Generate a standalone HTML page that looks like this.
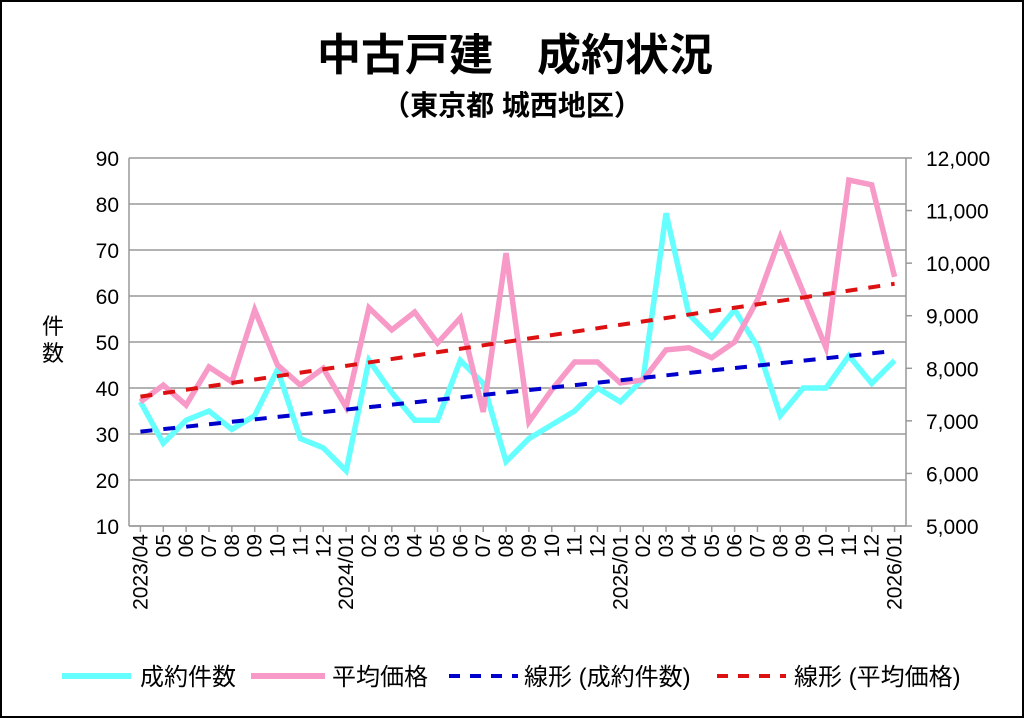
<!DOCTYPE html>
<html><head><meta charset="utf-8"><style>
html,body{margin:0;padding:0;background:#fff}
svg{display:block}
text{font-family:"Liberation Sans","Noto Sans CJK JP",sans-serif;fill:#000}
</style></head><body>
<svg id="c" width="1024" height="718" viewBox="0 0 1024 718">
<rect x="1" y="1" width="1022" height="716" fill="#fff" stroke="#000" stroke-width="2"/>
<text x="405" y="70" text-anchor="middle" font-size="44" font-weight="bold">中古戸建</text>
<text x="625" y="70" text-anchor="middle" font-size="44" font-weight="bold">成約状況</text>
<text x="512" y="115" text-anchor="middle" font-size="28" font-weight="bold">（東京都 城西地区）</text>
<text x="53" y="334" text-anchor="middle" font-size="22">件</text>
<text x="53" y="361" text-anchor="middle" font-size="22">数</text>
<g id="grid"></g><g id="axes"></g><g id="marks"></g>
<g>
<line x1="62" y1="676" x2="131" y2="676" stroke="#66ffff" stroke-width="6"/>
<text x="140" y="685" font-size="24">成約件数</text>
<line x1="251" y1="676" x2="325" y2="676" stroke="#f79ac8" stroke-width="6"/>
<text x="332" y="685" font-size="24">平均価格</text>
<line x1="449" y1="676" x2="518" y2="676" stroke="#0000cc" stroke-width="4" stroke-dasharray="11,10"/>
<text x="524" y="685" font-size="24">線形 (成約件数)</text>
<line x1="717" y1="676" x2="786" y2="676" stroke="#dd1111" stroke-width="4" stroke-dasharray="11,10"/>
<text x="794" y="685" font-size="24">線形 (平均価格)</text>
</g>
</svg>
<script>
const categories=["2023/04","05","06","07","08","09","10","11","12","2024/01","02","03","04","05","06","07","08","09","10","11","12","2025/01","02","03","04","05","06","07","08","09","10","11","12","2026/01"];
const counts=[37,28,33,35,31,34,44,29,27,22,46,39,33,33,46,41,24,29,32,35,40,37,42,78,56,51,57,49,34,40,40,47,41,46];
const prices=[7360,7680,7300,8025,7740,9110,8060,7680,8000,7260,9150,8730,9070,8480,8960,7170,10190,6980,7590,8120,8120,7720,7780,8350,8390,8200,8500,9300,10500,9450,8390,11580,11490,9740];
const leftTicks=[10,20,30,40,50,60,70,80,90];
const rightTicks=[5000,6000,7000,8000,9000,10000,11000,12000];
const NS="http://www.w3.org/2000/svg";
const X0=129,X1=906,Y0=526,Y1=158;
const bw=(X1-X0)/categories.length;
const xs=i=>X0+bw*(i+0.5);
const yL=v=>Y0-(v-10)/80*(Y0-Y1);
const yR=v=>Y0-(v-5000)/7000*(Y0-Y1);
function mk(tag,attrs,parent){const e=document.createElementNS(NS,tag);for(const k in attrs)e.setAttribute(k,attrs[k]);document.getElementById(parent).appendChild(e);return e;}
leftTicks.forEach(v=>{
 const l=mk('line',{x1:X0,x2:X1,y1:yL(v),y2:yL(v),stroke:'#999','stroke-width':1.5},'grid');
 
 
 const t=mk('text',{x:X0-10,y:yL(v)+8,'text-anchor':'end','font-size':21},'axes');t.textContent=v;
 
 
});
rightTicks.forEach(v=>{
 const t=mk('text',{x:X1+20,y:yR(v)+8,'font-size':21},'axes');t.textContent=v.toLocaleString('en-US');
 
 
 const k=mk('line',{x1:X1,x2:X1+6,y1:yR(v),y2:yR(v),stroke:'#999','stroke-width':1.5},'axes');
 
 
});
[[X0,Y1,X0,Y0],[X1,Y1,X1,Y0],[X0,Y0,X1,Y0]].forEach(a=>{
 const l=mk('line',{x1:a[0],y1:a[1],x2:a[2],y2:a[3],stroke:'#999','stroke-width':1.5},'axes');
 
 
});
categories.forEach((c,i)=>{
 const k=mk('line',{x1:xs(i),x2:xs(i),y1:Y0,y2:Y0+6,stroke:'#999','stroke-width':1.5},'axes');
 
 
 const t=mk('text',{x:0,y:0,'text-anchor':'end','font-size':21,transform:`translate(${xs(i)+7},${Y0+8}) rotate(-90)`},'axes');t.textContent=c;
 
 
});
function trend(arr){const n=arr.length;let sx=0,sy=0,sxx=0,sxy=0;arr.forEach((v,i)=>{sx+=i;sy+=v;sxx+=i*i;sxy+=i*v});const b=(n*sxy-sx*sy)/(n*sxx-sx*sx);const a=(sy-b*sx)/n;return [a,a+b*(n-1)];}
const ct=trend(counts),pt=trend(prices),n=categories.length-1;
const tb=mk('line',{x1:xs(0),y1:yL(ct[0]),x2:xs(n),y2:yL(ct[1]),stroke:'#0000cc','stroke-width':4,'stroke-dasharray':'12,11'},'marks');


const tr=mk('line',{x1:xs(0),y1:yR(pt[0]),x2:xs(n),y2:yR(pt[1]),stroke:'#dd1111','stroke-width':4,'stroke-dasharray':'12,11'},'marks');


const pc=mk('polyline',{points:counts.map((v,i)=>xs(i)+','+yL(v)).join(' '),fill:'none',stroke:'#66ffff','stroke-width':5.5,'stroke-linejoin':'miter'},'marks');


const pp=mk('polyline',{points:prices.map((v,i)=>xs(i)+','+yR(v)).join(' '),fill:'none',stroke:'#f79ac8','stroke-width':5.5,'stroke-linejoin':'miter'},'marks');


const m=document.getElementById('marks');m.appendChild(tb);m.appendChild(tr);
</script>
</body></html>
